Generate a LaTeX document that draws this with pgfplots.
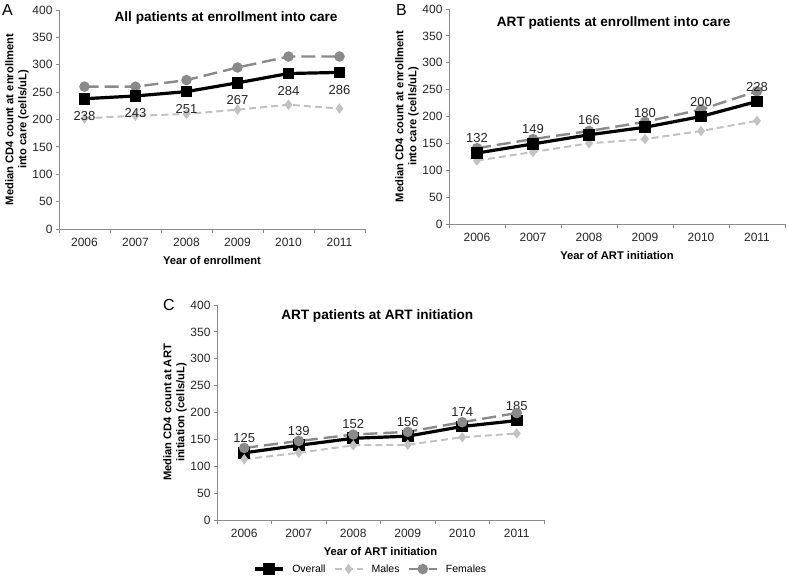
\documentclass[border=0pt]{standalone}
\usepackage{pgfplots}
\pgfplotsset{compat=1.18}
\usepackage{fontspec}
\setmainfont{Liberation Sans}
\definecolor{femc}{HTML}{8A8A8A}
\definecolor{malc}{HTML}{C2C2C2}
\definecolor{axc}{HTML}{8A8A8A}
\pgfplotsset{
  panel/.style={
    scale only axis,
    xmin=-0.5, xmax=5.5, ymin=0, ymax=400,
    axis x line=bottom, axis y line=left,
    axis line style={-, draw=axc, line width=0.8pt},
    ytick={0,50,...,400},
    xtick={0,...,5},
    xticklabels={2006,2007,2008,2009,2010,2011},
    minor xtick={-0.5,0.5,...,5.5},
    every major x tick/.append style={draw=none},
    every minor x tick/.append style={draw=axc, line width=0.8pt},
    every major y tick/.append style={draw=axc, line width=0.8pt},
    tick align=outside,
    major tick length=3pt, minor tick length=4pt,
    /pgf/number format/assume math mode=true,
    tick label style={font=\fontsize{12}{14}\selectfont, text=black!85},
    xticklabel style={yshift=-3pt},
    label style={font=\fontsize{11.2}{13}\selectfont\bfseries},
    xlabel style={yshift=-2pt},
    ylabel style={align=center, yshift=-3pt},
    title style={font=\fontsize{13.6}{15}\selectfont\bfseries, anchor=center, yshift=-6pt},
    legend image code/.code={\draw[mark repeat=2,mark phase=2] plot coordinates {(0pt,0pt)(14pt,0pt)(28pt,0pt)};},
  },
  overall/.style={black, line width=3.2pt, mark=square*, mark size=4.3pt, mark options={solid}},
  females/.style={femc, line width=2.4pt, dash pattern=on 14pt off 6pt, mark=*, mark size=4pt, mark options={solid}},
  males/.style={malc, line width=2pt, dash pattern=on 7pt off 4pt, mark=diamond*, mark size=3.6pt, mark options={solid}},
  lblbelow/.style={nodes near coords, every node near coord/.append style={anchor=north, yshift=-8pt, font=\fontsize{13}{15}\selectfont, text=black!85}},
  lblabove/.style={nodes near coords, every node near coord/.append style={anchor=south, yshift=5pt, font=\fontsize{13}{15}\selectfont, text=black!85}},
}
\begin{document}
\begin{tikzpicture}
\useasboundingbox (0,0) rectangle (788pt,-576pt);
% Panel A
\begin{axis}[panel, at={(59pt,-229pt)}, anchor=south west, width=306pt, height=219pt,
  title={All patients at enrollment into care}, title style={at={(0.546,0.963)}},
  xlabel={Year of enrollment},
  ylabel={Median CD4 count at enrollment\\into care (cells/uL)}]
\addplot[males] coordinates {(0,202) (1,207) (2,210) (3,218) (4,227) (5,220)};
\addplot[females] coordinates {(0,260) (1,260) (2,272) (3,295) (4,315) (5,315)};
\addplot[overall, lblbelow] coordinates {(0,238) (1,243) (2,251) (3,267) (4,284) (5,286)};
\end{axis}
% Panel B
\begin{axis}[panel, at={(449pt,-224pt)}, anchor=south west, width=336pt, height=215pt,
  title={ART patients at enrollment into care}, title style={at={(0.49,0.935)}},
  xlabel={Year of ART initiation},
  ylabel={Median CD4 count at enrollment\\into care (cells/uL)}]
\addplot[males] coordinates {(0,118) (1,134) (2,150) (3,158) (4,173) (5,192)};
\addplot[females] coordinates {(0,141) (1,158) (2,173) (3,190) (4,213) (5,247)};
\addplot[overall, lblabove] coordinates {(0,132) (1,149) (2,166) (3,180) (4,200) (5,228)};
\end{axis}
% Panel C
\begin{axis}[panel, at={(217pt,-520pt)}, anchor=south west, width=327pt, height=215pt,
  title={ART patients at ART initiation}, title style={at={(0.49,0.949)}},
  xlabel={Year of ART initiation},
  ylabel={Median CD4 count at ART\\initiation (cells/uL)},
  legend columns=3,
  legend style={at={(0.47,-0.228)}, anchor=center, draw=none, fill=none,
    font=\fontsize{10.5}{12}\selectfont, column sep=6pt},
  ]
\addplot[overall, lblabove] coordinates {(0,125) (1,139) (2,152) (3,156) (4,174) (5,185)};
\addlegendentry{Overall}
\addplot[males] coordinates {(0,113) (1,125) (2,139) (3,140) (4,154) (5,161)};
\addlegendentry{Males}
\addplot[females] coordinates {(0,134) (1,147) (2,159) (3,164) (4,182) (5,199)};
\addlegendentry{Females}
\end{axis}
\node[anchor=north west, font=\fontsize{16}{18}\selectfont, inner sep=0pt] at (2pt,-4pt) {A};
\node[anchor=north west, font=\fontsize{16}{18}\selectfont, inner sep=0pt] at (396pt,-4pt) {B};
\node[anchor=north west, font=\fontsize{16}{18}\selectfont, inner sep=0pt] at (163pt,-299pt) {C};
\end{tikzpicture}
\end{document}
